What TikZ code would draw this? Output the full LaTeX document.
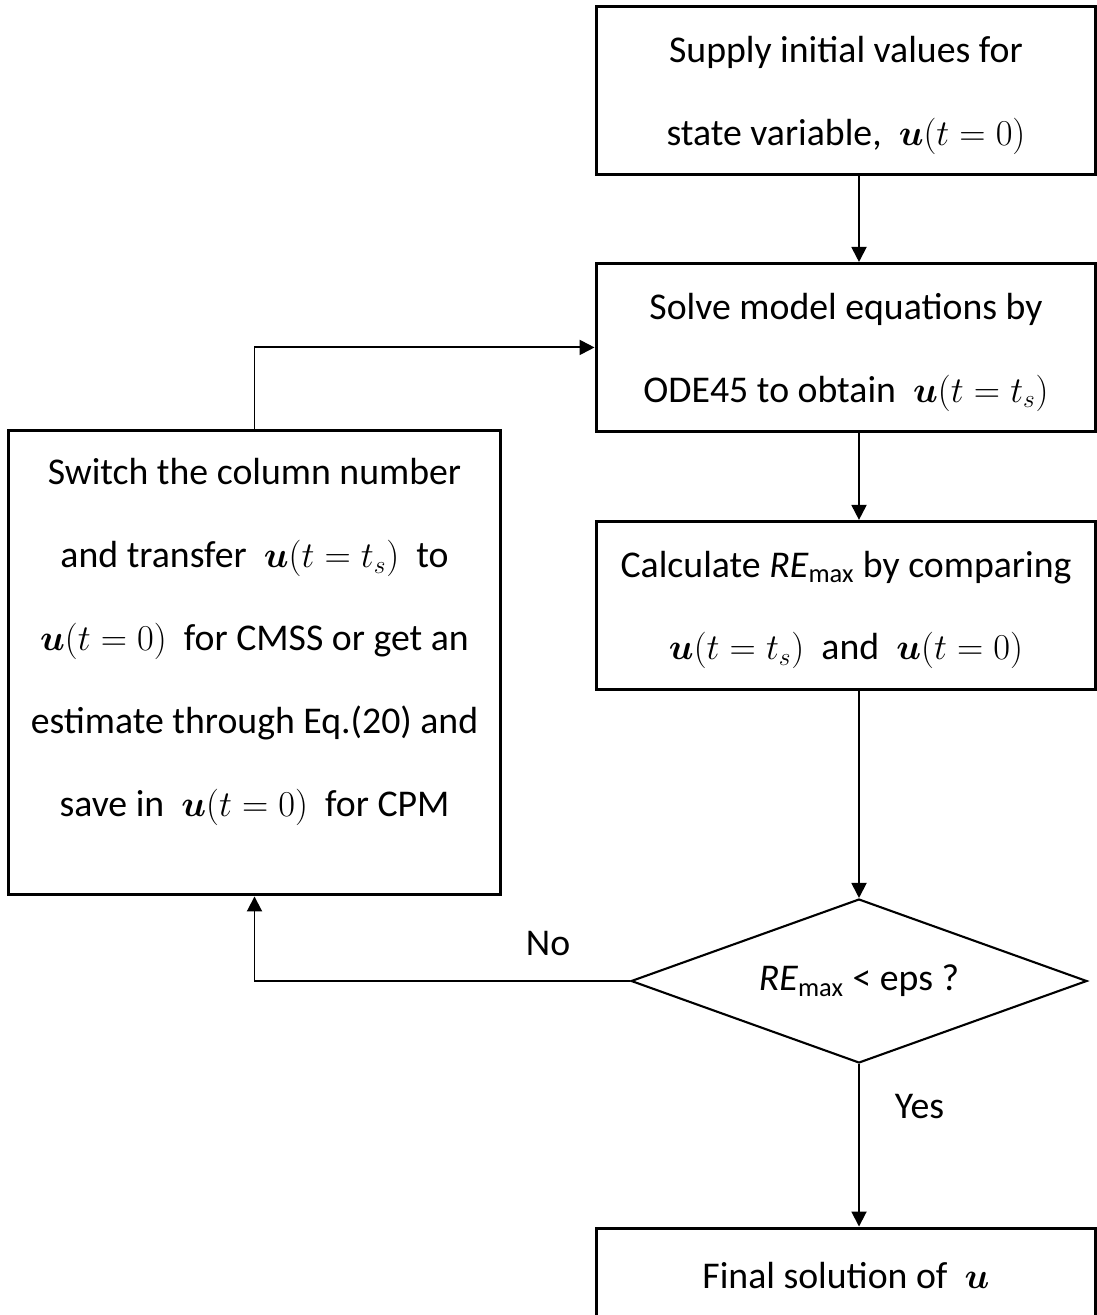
\documentclass[tikz,border=0pt]{standalone}
\usepackage{fontspec}
\setmainfont{Carlito}
\usepackage{amsmath}
\usetikzlibrary{arrows.meta, positioning, shapes.geometric}

\begin{document}
\begin{tikzpicture}[x=0.02cm, y=-0.02cm, node distance=1.72cm, font=\fontsize{21.5}{47.2}\selectfont]
		\tikzstyle{block} = [rectangle, draw=black, line width=1.7pt, minimum width=10cm, minimum height=3.36cm, inner sep=0, text depth=-0.08cm, align=center]
		\tikzstyle{sidebox} = [rectangle, draw=black, line width=1.7pt, minimum width=9.86cm, minimum height=9.3cm, inner sep=0, align=center]
		\tikzstyle{decision} = [diamond, draw=black, line width=1.2pt, minimum width=9.12cm, minimum height=3.28cm, inner sep=0, aspect=2.78]

		\tikzstyle{flow_line} = [-{Triangle[length=0.3cm, width=0.3cm]}, line width=1.1pt]

		\useasboundingbox (0,0) rectangle (1097,1315);

		% Main column
		\node[block](init) at (846,90.5) {Supply initial values for\\state variable,\ \ $\boldsymbol{u}(t=0)$};
		\node[block, below=of init](solve) {Solve model equations by\\ODE45 to obtain\ \ $\boldsymbol{u}(t=t_s)$};
		\node[block, below=1.74cm of solve](calc) {Calculate \textit{RE}\textsubscript{max} by comparing\\$\boldsymbol{u}(t=t_s)$\ \ and\ \ $\boldsymbol{u}(t=0)$};
		\node[decision](check) at (859,981) {\textit{RE}\textsubscript{max} < eps ?};
		\node[block, minimum height=2cm, text depth=0.1cm](final) at (846,1278) {Final solution of\ \ $\boldsymbol{u}$};

		% Update box
		\node[sidebox, text depth=1cm](switch) at (254.5,662.5) {Switch the column number\\and transfer\ \ $\boldsymbol{u}(t=t_s)$\ \ to\\$\boldsymbol{u}(t=0)$\ \ for CMSS or get an\\estimate through Eq.(20) and\\save in\ \ $\boldsymbol{u}(t=0)$\ \ for CPM};

		% Arrows
		\draw[flow_line] (init.south -| check) -- (solve.north -| check);
		\draw[flow_line] (solve.south -| check) -- (calc.north -| check);
		\draw[flow_line] (calc.south -| check) -- (check.north);
		\draw[flow_line] (check.south) -- (final.north -| check) node[pos=0.26, right=0.58cm](yes_lbl){Yes};
		\draw[flow_line] (check.west) -| (switch.south);
		\node(no_lbl) at (548,943) {No};
		\draw[flow_line] (switch.north) |- (solve.west);

	\end{tikzpicture}
\end{document}
